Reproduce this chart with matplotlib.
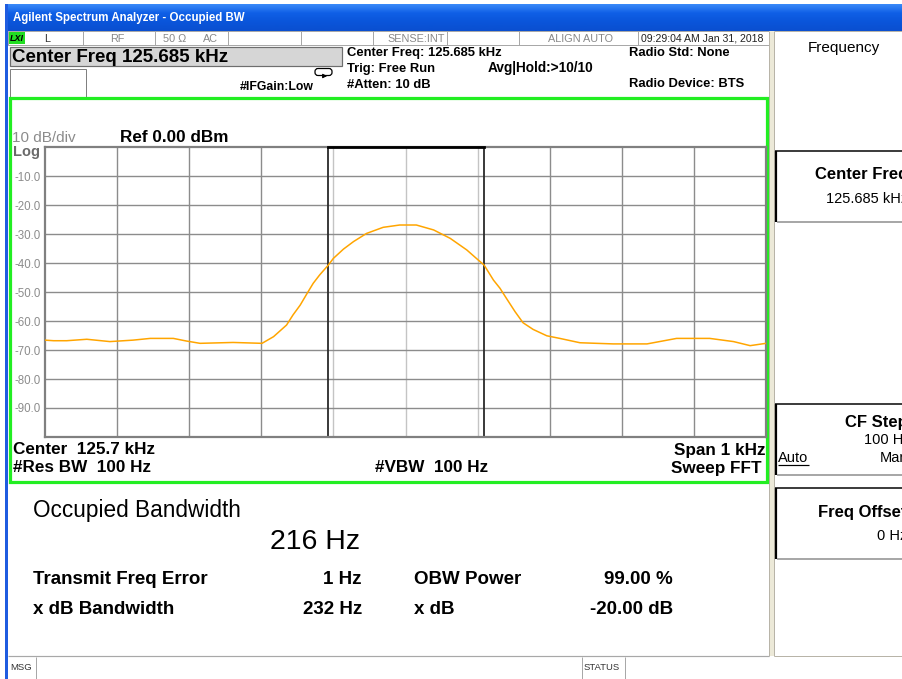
import numpy as np
import matplotlib
matplotlib.use("Agg")
import matplotlib.pyplot as plt
from matplotlib.patches import Rectangle, FancyBboxPatch
from matplotlib.colors import LinearSegmentedColormap

plt.rcParams['font.family'] = ['Liberation Sans', 'DejaVu Sans']

# ---------------- data ----------------
center_khz = 125.685
span_khz = 1.0
ref_dbm = 0.0
db_per_div = 10
ytick_vals = [-10, -20, -30, -40, -50, -60, -70, -80, -90]
ytick_labels = ["-10.0", "-20.0", "-30.0", "-40.0", "-50.0", "-60.0", "-70.0", "-80.0", "-90.0"]

trace_offset_hz = [-500, -488, -470, -442, -410, -378, -354, -322, -304, -285, -239, -199,
                   -183, -165, -156, -146, -137, -128, -119, -107, -100, -86, -72, -54, -31,
                   -8, 15, 39, 62, 85, 101, 109, 122, 131, 140, 152, 163, 177, 196, 214,
                   242, 288, 335, 376, 422, 455, 478, 500]
trace_dbm = [-66.6, -66.8, -66.8, -66.3, -67.1, -66.6, -66.0, -66.0, -66.9, -67.7, -67.4, -67.7,
             -65.4, -61.4, -57.9, -54.5, -50.7, -47.0, -44.1, -40.7, -38.4, -35.2, -32.6, -29.8, -27.7,
             -26.9, -26.9, -28.6, -31.5, -35.5, -39.0, -40.7, -45.9, -48.7, -52.2, -56.8, -60.6, -62.9, -65.1, -66.0,
             -67.5, -67.9, -67.9, -66.0, -66.0, -67.1, -68.5, -67.7]

obw_hz = 216
freq_error_hz = 1

W, H = 903, 679
fig = plt.figure(figsize=(W / 100, H / 100), dpi=100)
bg = fig.add_axes([0, 0, 1, 1])
bg.axis('off')

PX = 0.72  # points per pixel


def T(x, y, s, size=9, weight='normal', color='black', ha='left', va='center', z=4, **kw):
    return bg.text(x, y, s, fontsize=size, fontweight=weight, color=color, ha=ha, va=va,
                   zorder=z, **kw)


def R(x, y, w, h, fc='white', ec='none', lw=1.0, z=1):
    bg.add_patch(Rectangle((x, y), w, h, facecolor=fc, edgecolor=ec, linewidth=lw * PX, zorder=z))


def L(xs, ys, color='black', lw=1.0, z=3):
    bg.plot(xs, ys, color=color, linewidth=lw * PX, zorder=z, solid_capstyle='butt')


# white background
R(0, 0, W, H, fc='white', z=0)

# title bar gradient
cmap = LinearSegmentedColormap.from_list('xp', ['#3A8AF8', '#0F5FE6', '#0A55DA', '#0A4FD0'])
grad = np.linspace(0, 1, 64).reshape(-1, 1)
bg.imshow(grad, cmap=cmap, extent=[6, W, 31, 4], aspect='auto', zorder=1, interpolation='bilinear')
T(13, 18, "Agilent Spectrum Analyzer - Occupied BW", size=8.3, weight='bold', color='white', z=5)

# window left blue border
R(5, 4, 3, H - 4, fc='#1F5CE0', z=2)

# status row
R(8, 31, 761, 14, fc='white', ec='#A8A8A8', lw=1, z=2)
for xs in [83, 155, 228, 301, 373, 447, 519, 638]:
    L([xs, xs], [31, 45], color='#A8A8A8', lw=1, z=3)
R(9, 32, 16, 12, fc='#22DD22', z=3)
T(17, 38.5, "LXI", size=6.5, weight='bold', style='italic', ha='center')
T(47, 38.5, "L", size=7.8, color='#333333', ha='center')
T(117, 38.5, "RF", size=7.8, color='#888888', ha='center')
T(163, 38.5, "50 Ω", size=7.8, color='#888888')
T(203, 38.5, "AC", size=7.8, color='#888888')
T(445, 38.5, "SENSE:INT", size=7.8, color='#888888', ha='right')
T(613, 38.5, "ALIGN AUTO", size=7.8, color='#888888', ha='right')
T(641, 38.5, "09:29:04 AM Jan 31, 2018", size=7.6, color='#222222')

# header
R(10, 47, 332, 19, fc='#D6D6D6', ec='#6E6E6E', lw=1.2, z=2)
T(12, 57, "Center Freq 125.685 kHz", size=13.5, weight='bold')
R(10, 69, 76, 28, fc='white', ec='#808080', lw=1, z=2)
bg.add_patch(FancyBboxPatch((315, 68.5), 17, 7, boxstyle='round,pad=0,rounding_size=3',
                            facecolor='white', edgecolor='black', linewidth=0.9, zorder=4))
bg.annotate('', xy=(330, 76), xytext=(321, 76),
            arrowprops=dict(arrowstyle='-|>', color='black', lw=0.8, mutation_scale=6), zorder=5)
T(240, 87, "#IFGain:Low", size=8.8, weight='bold')
T(347, 53, "Center Freq: 125.685 kHz", size=9.4, weight='bold')
T(347, 69, "Trig: Free Run", size=9.4, weight='bold')
T(347, 85, "#Atten: 10 dB", size=9.4, weight='bold')
T(488, 68, "Avg|Hold:>10/10", size=9.8, weight='bold')
T(629, 53, "Radio Std: None", size=9.4, weight='bold')
T(629, 84, "Radio Device: BTS", size=9.4, weight='bold')

# beige separator column and right panel
R(769, 31, 5, 625, fc='#ECE9D8', z=2)
L([769, 769], [31, 656], color='#B8B4A8', lw=1)
L([774, 774], [31, 656], color='#B8B4A8', lw=1)
L([774, W], [31, 31], color='#B8B4A8', lw=1)
L([774, W], [656, 656], color='#B8B4A8', lw=1)
T(844, 48, "Frequency", size=11, ha='center')
for (top, bot) in [(151, 222), (404, 475), (488, 559)]:
    L([776, 776], [top, bot], color='black', lw=2.2, z=4)
    L([775, W], [top, top], color='black', lw=1.5, z=4)
    L([777, W], [bot, bot], color='#8C8C8C', lw=1.5, z=4)
T(815, 175, "Center Freq", size=12, weight='bold')
T(826, 199, "125.685 kHz", size=10.5)
T(845, 423, "CF Step", size=12, weight='bold')
T(864, 440, "100 Hz", size=10.5)
T(778, 458, "Auto", size=10.5)
L([778, 809], [465, 465], color='black', lw=1.2, z=4)
T(880, 458, "Man", size=10.5)
T(818, 512, "Freq Offset", size=12, weight='bold')
T(877, 536, "0 Hz", size=10.5)

# green frame around graph
R(10.5, 98, 757, 384, fc='none', ec='#22EE22', lw=3.2, z=3)
T(12, 138, "10 dB/div", size=11, color='#8C8C8C')
T(120, 137, "Ref 0.00 dBm", size=12.3, weight='bold')
T(13, 152, "Log", size=10.5, color='#6A6A6A', weight='bold')
T(13, 450, "Center  125.7 kHz", size=12.3, weight='bold')
T(13, 468, "#Res BW  100 Hz", size=12.3, weight='bold')
T(375, 468, "#VBW  100 Hz", size=12.3, weight='bold')
T(766, 450, "Span 1 kHz", size=12.3, weight='bold', ha='right')
T(762, 468, "Sweep FFT", size=12.3, weight='bold', ha='right')

# results panel
T(33, 511, "Occupied Bandwidth", size=16.3)
T(270, 542, f"{obw_hz} Hz", size=20.5)
T(33, 580, "Transmit Freq Error", size=13.5, weight='bold')
T(362, 580, f"{freq_error_hz} Hz", size=13.5, weight='bold', ha='right')
T(414, 580, "OBW Power", size=13.5, weight='bold')
T(673, 580, "99.00 %", size=13.5, weight='bold', ha='right')
T(33, 610, "x dB Bandwidth", size=13.5, weight='bold')
T(362, 610, "232 Hz", size=13.5, weight='bold', ha='right')
T(414, 610, "x dB", size=13.5, weight='bold')
T(673, 610, "-20.00 dB", size=13.5, weight='bold', ha='right')

# bottom status bar
L([8, 769], [656, 656], color='#A8A8A8', lw=1.2)
L([36, 36], [657, H], color='#A8A8A8', lw=1)
L([582, 582], [657, H], color='#A8A8A8', lw=1)
L([625, 625], [657, H], color='#A8A8A8', lw=1)
T(10, 668, "MSG", size=6.8, color='#333333')
T(584, 668, "STATUS", size=6.8, color='#333333')

bg.set_xlim(0, W)
bg.set_ylim(H, 0)

# ---------------- spectrum axes ----------------
x0, x1, y0, y1 = 45, 766, 147, 437
ax = fig.add_axes([x0 / W, 1 - y1 / H, (x1 - x0) / W, (y1 - y0) / H])
ax.set_facecolor('white')
fmin = center_khz - span_khz / 2
fmax = center_khz + span_khz / 2
ax.set_xlim(fmin, fmax)
ax.set_ylim(ref_dbm - 10 * db_per_div, ref_dbm)

obw_lo = center_khz + (freq_error_hz - obw_hz / 2) / 1000
obw_hi = center_khz + (freq_error_hz + obw_hz / 2) / 1000

for i in range(1, 10):
    f = fmin + i * span_khz / 10
    col = '#C4C4C4' if obw_lo < f < obw_hi else '#8C8C8C'
    ax.axvline(f, color=col, lw=1.0, zorder=1)
for v in ytick_vals:
    ax.axhline(v, color='#8C8C8C', lw=1.0, zorder=1)

ax.axvline(obw_lo, color='#2A2A2A', lw=1.3, zorder=2)
ax.axvline(obw_hi, color='#2A2A2A', lw=1.3, zorder=2)
ax.plot([obw_lo, obw_hi], [ref_dbm, ref_dbm], color='black', lw=2.0, zorder=4, clip_on=False)

freqs = center_khz + np.array(trace_offset_hz) / 1000
ax.plot(freqs, trace_dbm, color='#FFA500', lw=1.1, zorder=3)

ax.set_xticks([])
ax.set_yticks(ytick_vals)
ax.set_yticklabels(ytick_labels)
ax.tick_params(axis='y', length=0, pad=3, labelsize=8.3, labelcolor='#8C8C8C')
for s in ax.spines.values():
    s.set_color('#808080')
    s.set_linewidth(1.6)

fig.savefig('out.png', dpi=100)
